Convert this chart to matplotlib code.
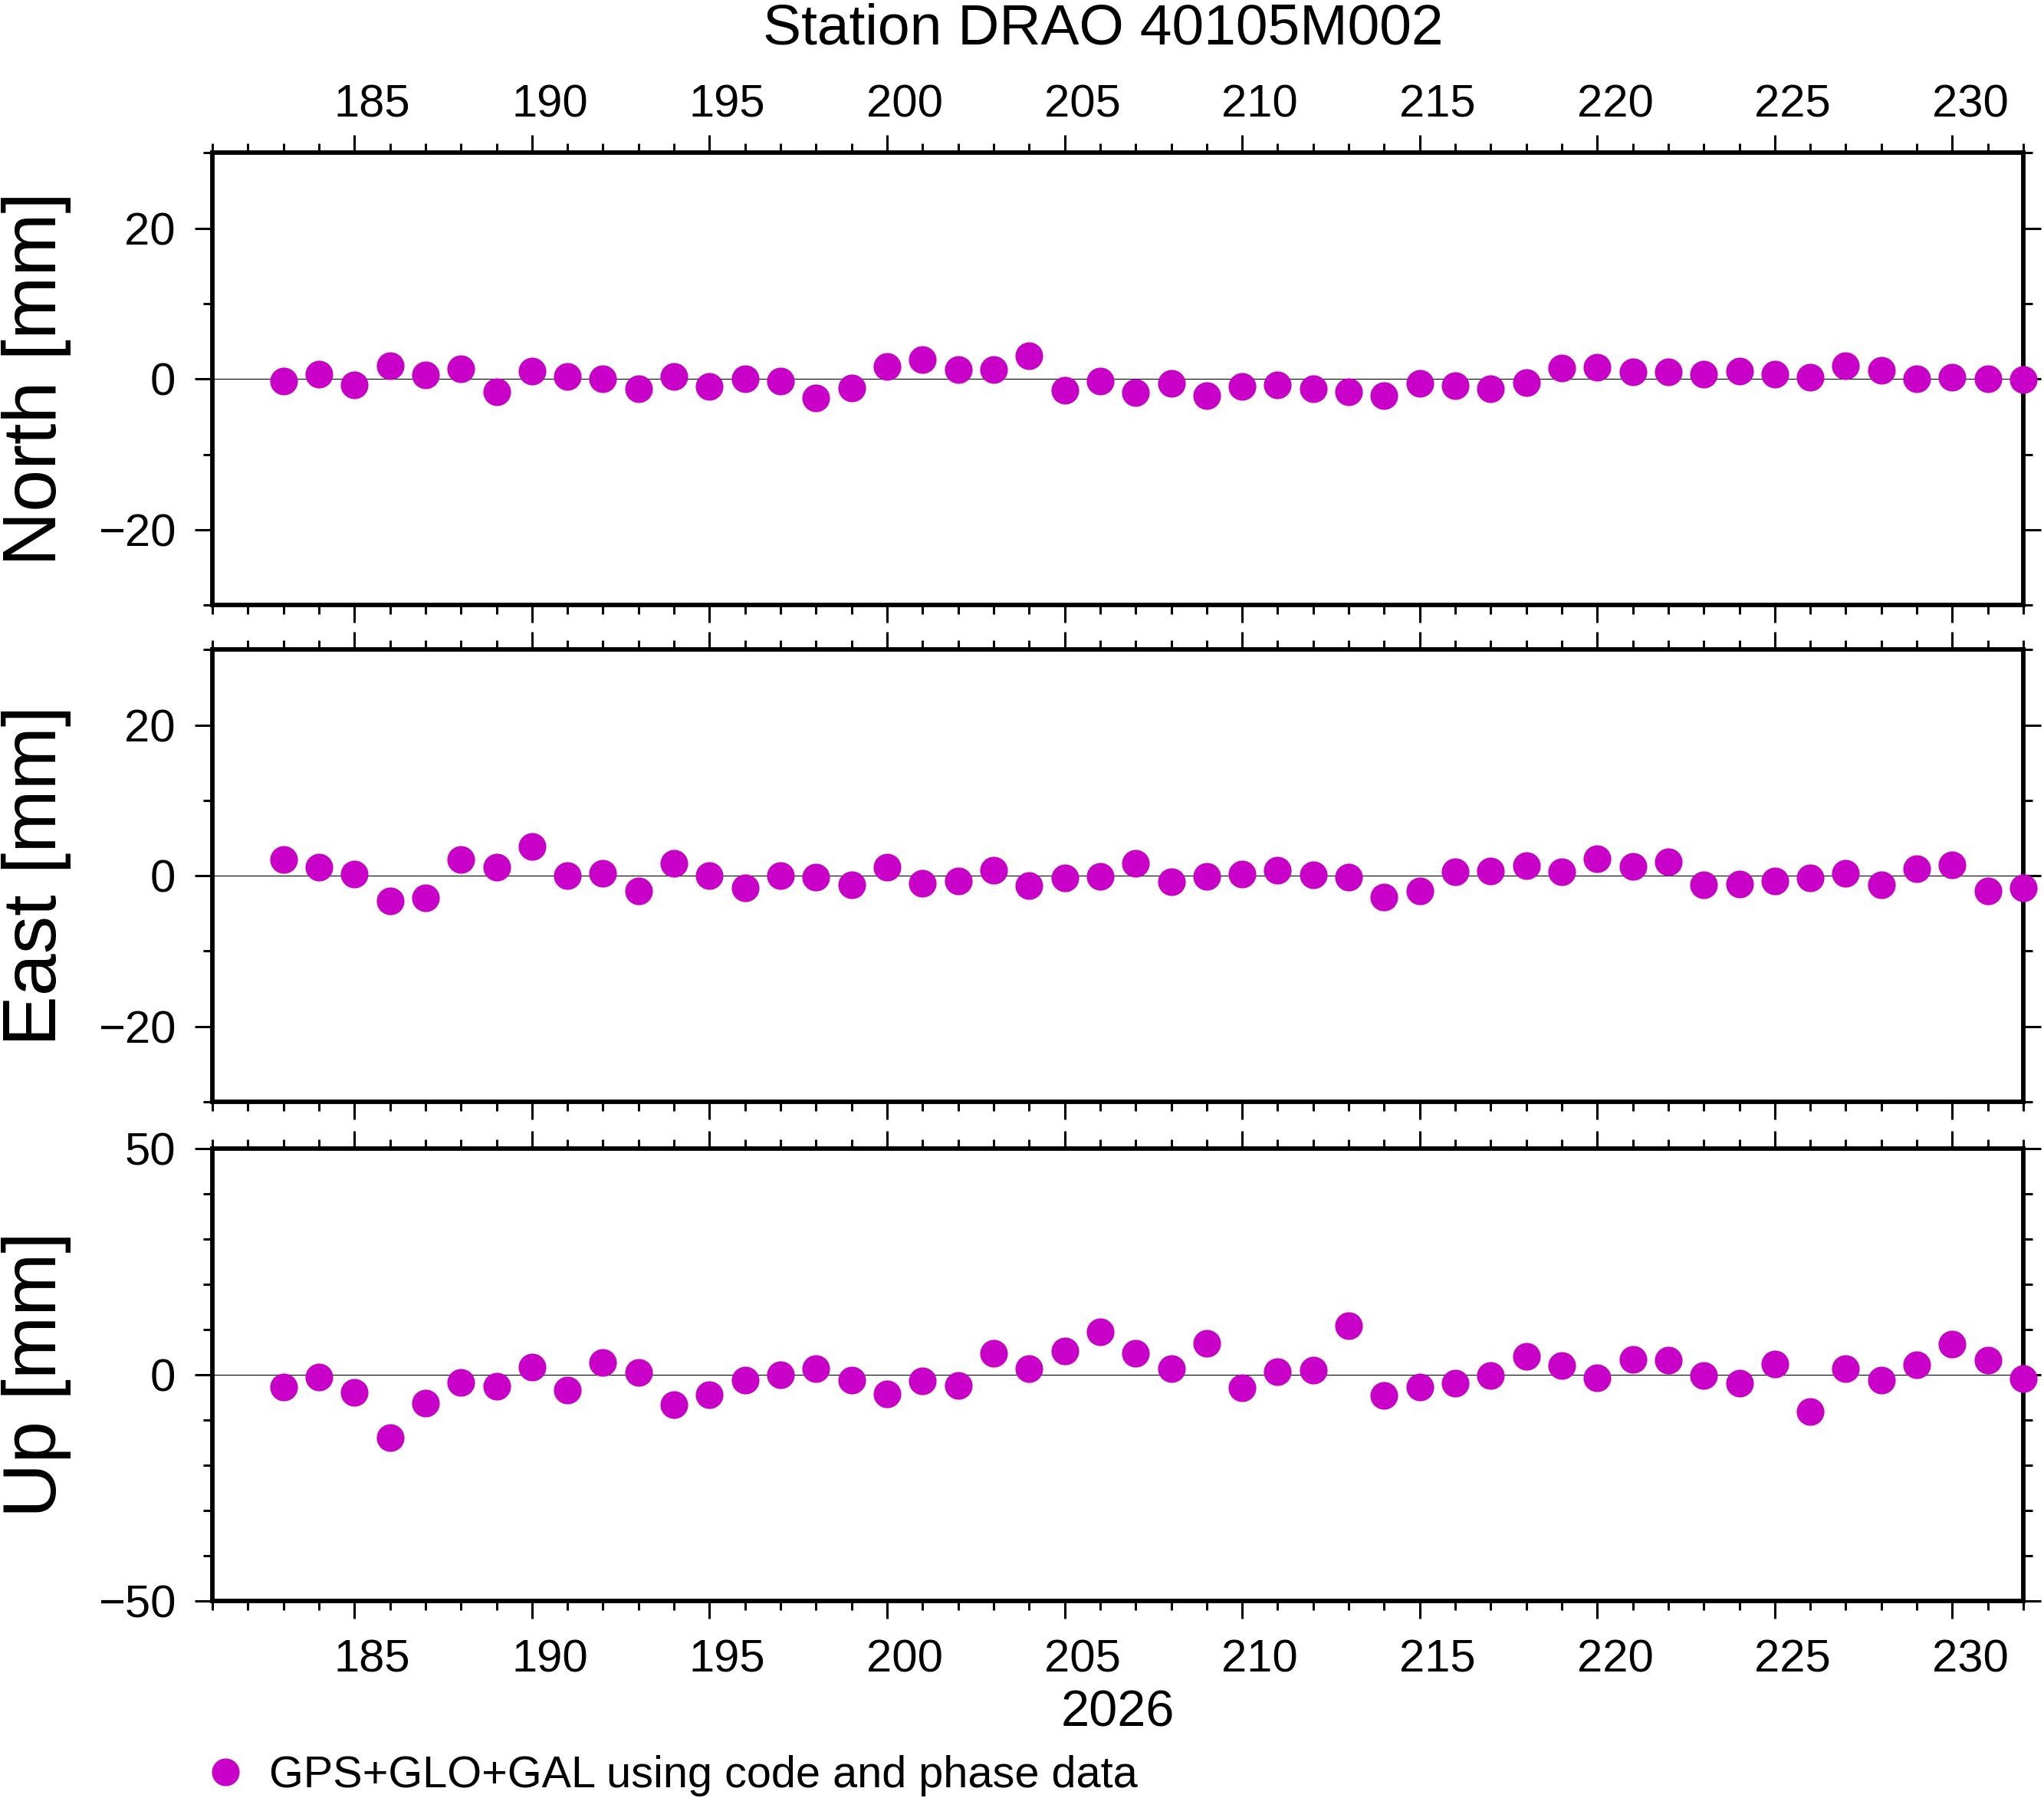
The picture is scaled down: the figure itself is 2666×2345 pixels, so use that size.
import matplotlib
matplotlib.use('Agg')
import matplotlib.pyplot as plt
from matplotlib.ticker import MultipleLocator
from matplotlib.transforms import ScaledTranslation

plt.rcParams['font.family'] = ['Liberation Sans', 'DejaVu Sans']

# ---------------- data ----------------
days = list(range(183, 233))
north = [-0.3, 0.6, -0.8, 1.7, 0.5, 1.3, -1.7, 1.0, 0.3, 0.0, -1.3, 0.3, -1.0,
         0.0, -0.3, -2.5, -1.2, 1.6, 2.6, 1.2, 1.2, 3.1, -1.5, -0.3, -1.8,
         -0.6, -2.2, -1.0, -0.8, -1.3, -1.7, -2.2, -0.6, -0.9, -1.3, -0.5, 1.4,
         1.5, 0.9, 0.9, 0.6, 1.0, 0.6, 0.2, 1.7, 1.1, 0.0, 0.2, 0.0, -0.1]
east = [2.2, 1.1, 0.2, -3.3, -2.9, 2.2, 1.1, 3.9, 0.0, 0.3, -2.0, 1.6, 0.0,
        -1.6, 0.0, -0.2, -1.2, 1.1, -1.0, -0.7, 0.7, -1.3, -0.3, -0.1, 1.6,
        -0.8, -0.1, 0.2, 0.7, 0.1, -0.2, -2.8, -2.0, 0.5, 0.6, 1.3, 0.5,
        2.3, 1.2, 1.8, -1.2, -1.1, -0.7, -0.3, 0.3, -1.2, 0.9, 1.4, -2.0, -1.6]
up = [-2.7, -0.5, -3.8, -13.9, -6.3, -1.7, -2.6, 1.7, -3.3, 2.7, 0.5, -6.6, -4.4,
      -1.2, 0.0, 1.3, -1.2, -4.3, -1.4, -2.3, 4.8, 1.3, 5.3, 9.5, 4.8,
      1.3, 6.9, -2.9, 0.7, 1.0, 10.8, -4.6, -2.7, -1.9, -0.2, 4.1, 2.0,
      -0.7, 3.4, 3.2, -0.2, -1.8, 2.4, -8.1, 1.3, -1.1, 2.2, 6.8, 3.2, -0.8]

panel_labels = ['North [mm]', 'East [mm]', 'Up [mm]']
panel_ylims = [(-30, 30), (-30, 30), (-50, 50)]
panel_major = [20, 20, 50]
x_major_ticks = list(range(185, 231, 5))
title = 'Station DRAO 40105M002'
year_label = '2026'
legend_label = 'GPS+GLO+GAL using code and phase data'
color = '#c800c8'

# ---------------- figure ----------------
W, H = 26.66, 23.45
fig = plt.figure(figsize=(W, H), dpi=100)

left, width, height = 0.1039, 0.886, 0.2515
bottoms = [0.6635, 0.3872, 0.1096]
xlim = (181, 232)

axes = []
for i, (vals, lab, ylim, maj) in enumerate(zip([north, east, up], panel_labels,
                                                panel_ylims, panel_major)):
    ax = fig.add_axes([left, bottoms[i], width, height])
    ax.axhline(0, color='black', lw=0.8, zorder=1)
    line, = ax.plot(days, vals, 'o', color=color, markersize=26,
                    markeredgewidth=0, clip_on=False, zorder=3)
    ax.set_xlim(*xlim)
    ax.set_ylim(*ylim)
    ax.set_xticks(x_major_ticks)
    ax.xaxis.set_minor_locator(MultipleLocator(1))
    ax.yaxis.set_major_locator(MultipleLocator(maj))
    ax.yaxis.set_minor_locator(MultipleLocator(10))
    for sp in ax.spines.values():
        sp.set_linewidth(4.2)
    ax.tick_params(which='both', direction='out', top=True, bottom=True,
                   left=True, right=True, width=2.2, labelright=False,
                   labeltop=(i == 0), labelbottom=(i == 2))
    ax.tick_params(which='major', length=16.5)
    ax.tick_params(which='minor', length=8.6)
    ax.tick_params(axis='y', labelsize=43, pad=18)
    ax.tick_params(axis='x', labelsize=43)
    if i == 0:
        ax.tick_params(axis='x', which='major', pad=8.5)
    else:
        ax.tick_params(axis='x', which='major', pad=19)
    # y-axis label
    yc = bottoms[i] + height / 2
    fig.text(0.0272, yc, lab, rotation=90, rotation_mode='anchor',
             ha='center', va='baseline', fontsize=71)
    axes.append((ax, line))

# shift day labels to the middle of the day interval
day_w_in = width * W / (xlim[1] - xlim[0])
offset = ScaledTranslation(day_w_in / 2, 0, fig.dpi_scale_trans)
for ax, _ in axes:
    for tk in ax.xaxis.get_major_ticks():
        tk.label1.set_transform(tk.label1.get_transform() + offset)
        tk.label2.set_transform(tk.label2.get_transform() + offset)

fig.text(1439 / 2666, 1 - 57 / 2345, title, ha='center', va='baseline',
         fontsize=54)
fig.text(left + width / 2, 1 - 2252 / 2345, year_label, ha='center',
         va='baseline', fontsize=48)

fig.legend(handles=[axes[0][1]], labels=[legend_label], loc='center left',
           bbox_to_anchor=((294 - 29) / 2666, 1 - 2316 / 2345),
           frameon=False, borderpad=0, borderaxespad=0, handlelength=1.0,
           handletextpad=0.5, fontsize=41.5)

fig.savefig('out.png', dpi=100)
